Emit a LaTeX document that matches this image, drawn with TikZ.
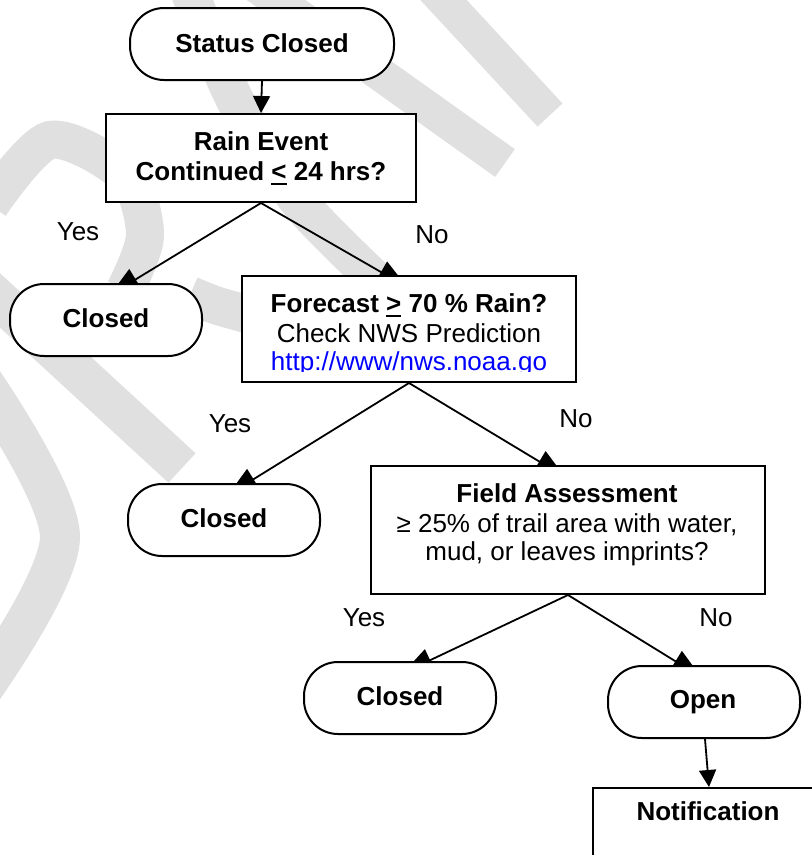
\documentclass[tikz,border=0pt]{standalone}
\usepackage{fontspec}
\setmainfont{Liberation Sans}
\usetikzlibrary{arrows.meta,calc,backgrounds}
\definecolor{wm}{RGB}{224,224,224}
\definecolor{linkblue}{RGB}{0,0,255}
\newcommand\ulsym[1]{\setbox0\hbox{#1}\rlap{\rule[-5pt]{\wd0}{2pt}}\box0\relax}
\begin{document}
\begin{tikzpicture}[x=1pt,y=-1pt,
  shapebox/.style={draw, line width=2pt, fill=white, rectangle, inner sep=0pt},
  stad/.style={draw, line width=2pt, fill=white, rectangle, rounded corners=34pt, inner sep=0pt, minimum width=192pt, minimum height=72pt},
  txt/.style={anchor=base, inner sep=0pt, font=\fontsize{26}{30}\selectfont},
  btxt/.style={txt, font=\fontsize{26}{30}\selectfont\bfseries},
  conn/.style={line width=1.8pt, -{Triangle[length=30pt,width=24pt]}},
  vconn/.style={line width=1.8pt, -{Triangle[length=17pt,width=17pt]}},
  wmband/.style={draw=wm, line width=38pt},
]
\useasboundingbox (0,0) rectangle (812,855);

% nodes
\node[stad, minimum width=264pt] (s) at (262,44) {};
\node[btxt] (st) at (262,52) {Status Closed};
\node[shapebox, minimum width=310pt, minimum height=88pt] (rain) at (261,158) {};
\node[btxt] (r1) at (261,150) {Rain Event};
\node[btxt] (r2) at (261,180) {Continued \ulsym{<} 24 hrs?};
\node[txt] (y1) at (78,240) {Yes};
\node[txt] (n1) at (432,243) {No};
\node[stad] (c1) at (106,320) {};
\node[btxt] (c1t) at (106,327) {Closed};
\node[shapebox, minimum width=334pt, minimum height=106pt] (fc) at (409,329) {};
\begin{scope}
\clip (243,277) rectangle (575,371);
\node[btxt] (f1) at (409,312) {Forecast \ulsym{>} 70 \% Rain?};
\node[txt] (f2) at (409,342) {Check NWS Prediction};
\node[txt, text=linkblue] (f3) at (409,370) {http://www/nws.noaa.go};
\end{scope}
\node[txt] (y2) at (230,432) {Yes};
\node[txt] (n2) at (576,427) {No};
\node[stad] (c2) at (224,520) {};
\node[btxt] (c2t) at (224,527) {Closed};
\node[shapebox, minimum width=394pt, minimum height=128pt] (fa) at (568,530) {};
\node[btxt] (fa1) at (567,502) {Field Assessment};
\node[txt] (fa2) at (567,532) {≥ 25\% of trail area with water,};
\node[txt] (fa3) at (567,560) {mud, or leaves imprints?};
\node[txt] (y3) at (364,626) {Yes};
\node[txt] (n3) at (716,626) {No};
\node[stad] (c3) at (400,698) {};
\node[btxt] (c3t) at (400,705) {Closed};
\node[stad] (op) at (704,702) {};
\node[btxt] (opt) at (703,708) {Open};
\node[shapebox, minimum width=240pt, minimum height=100pt, anchor=north west] (nt) at (592,787) {};
\node[btxt] (ntt) at (708,820) {Notification};

\begin{pgfonlayer}{background}
\fill[white] (0,0) rectangle (812,855);
% watermark
\draw[wmband] plot[smooth] coordinates {(185,-20) (235,100) (300,203) (395,298)};
\draw[wmband, line width=34pt] (248,-20) -- (505,163);
\draw[wmband, line width=34pt] (425,-20) -- (550,115);
\draw[wmband] plot[smooth] coordinates {(-10,205) (50,140) (125,175) (145,235) (125,290)};
\draw[wmband, line width=40pt] (-20,282) -- (182,468);
\draw[wmband, line width=40pt] plot[smooth] coordinates {(-25,370) (60,537) (-25,700)};
\draw[wmband] plot[smooth] coordinates {(190,295) (215,305) (250,315)};
% connectors (heads partly hidden behind the boxes)
\draw[vconn] (s.south) -- (rain.north);
\draw[conn] (rain.south) -- ([xshift=4pt,yshift=-12pt]c1.north);
\draw[conn] (rain.south) -- ([xshift=-2pt,yshift=-12pt]fc.north);
\draw[conn] (fc.south) -- ([xshift=4pt,yshift=-12pt]c2.north);
\draw[conn] (fc.south) -- ([xshift=-3pt,yshift=-12pt]fa.north);
\draw[conn] (fa.south) -- ([xshift=3pt,yshift=-12pt]c3.north);
\draw[conn] (fa.south) -- ([xshift=-3pt,yshift=-12pt]op.north);
\draw[vconn] ([xshift=1pt]op.south) -- ([xshift=-4pt]nt.north);
\end{pgfonlayer}
\end{tikzpicture}
\end{document}
